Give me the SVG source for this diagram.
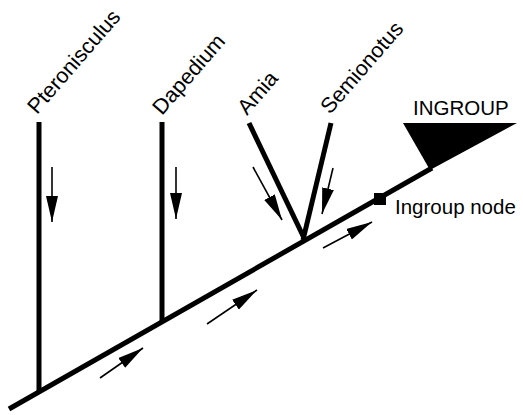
<svg xmlns="http://www.w3.org/2000/svg" width="523" height="415" viewBox="0 0 523 415">
  <style>
    .branch { stroke: #000; stroke-width: 5; fill: none; stroke-linecap: butt; }
    .flow { stroke: #000; stroke-width: 1.6; fill: none; marker-end: url(#head); }
    .taxon { font-family: "Liberation Sans", Arial, sans-serif; font-size: 21.5px; fill: #000; }
    .label { font-family: "Liberation Sans", Arial, sans-serif; font-size: 20.5px; fill: #000; }
  </style>
  <defs>
    <marker id="head" viewBox="0 0 26 12" refX="26" refY="6" markerWidth="26" markerHeight="12" markerUnits="userSpaceOnUse" orient="auto">
      <path d="M0,0 L26,6 L0,12 Z" fill="#000"/>
    </marker>
  </defs>
  <rect width="523" height="415" fill="#fff"/>

  <g id="connectors">
    <!-- main stem -->
    <line class="branch" x1="9" y1="409" x2="432" y2="168"/>
    <!-- terminal branches -->
    <line class="branch" x1="39" y1="122" x2="39" y2="392"/>
    <line class="branch" x1="162" y1="122" x2="162" y2="322"/>
    <line class="branch" x1="249" y1="123" x2="305" y2="240"/>
    <line class="branch" x1="331" y1="123" x2="303" y2="240"/>
    <!-- direction arrows -->
    <line class="flow" x1="52" y1="167" x2="52" y2="222"/>
    <line class="flow" x1="176" y1="167" x2="176" y2="219"/>
    <line class="flow" x1="253" y1="167" x2="282" y2="220"/>
    <line class="flow" x1="333" y1="168" x2="322" y2="214"/>
    <line class="flow" x1="100" y1="378" x2="143" y2="348"/>
    <line class="flow" x1="207" y1="324" x2="257" y2="290"/>
    <line class="flow" x1="323" y1="248" x2="372" y2="222"/>
  </g>

  <g id="ingroup">
    <polygon points="403,123 517,123 430,170" fill="#000"/>
    <text class="label" x="413" y="115">INGROUP</text>
  </g>

  <g id="ingroup-node">
    <rect x="374" y="193" width="12" height="12" fill="#000"/>
    <text class="label" x="395" y="214" font-size="21">Ingroup node</text>
  </g>

  <g id="pteronisculus">
    <text class="taxon" transform="translate(37,115) rotate(-49)">Pteronisculus</text>
  </g>
  <g id="dapedium">
    <text class="taxon" transform="translate(162,116) rotate(-49)">Dapedium</text>
  </g>
  <g id="amia">
    <text class="taxon" transform="translate(247,116) rotate(-49)">Amia</text>
  </g>
  <g id="semionotus">
    <text class="taxon" transform="translate(330,115) rotate(-49)">Semionotus</text>
  </g>
</svg>
